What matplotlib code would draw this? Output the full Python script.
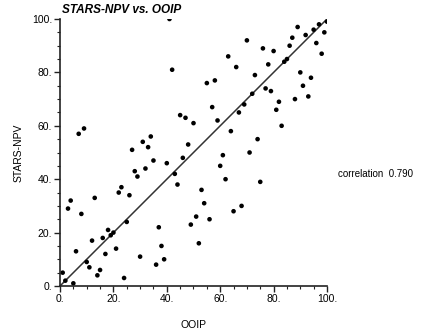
import matplotlib
matplotlib.use("Agg")
import matplotlib.pyplot as plt
from matplotlib.ticker import MultipleLocator, FuncFormatter

# Rank data (OOIP rank, STARS-NPV rank)
ooip = [41, 42, 7, 9, 45, 47, 50, 55, 58, 57, 59, 27, 31, 34, 33, 48, 35, 40, 32, 46,
        60, 43, 44, 28, 29, 22, 23, 26, 13, 4, 3, 8, 25, 18, 20, 19, 16, 12, 6, 21,
        17, 30, 37, 38, 39, 36, 10, 11, 15, 14, 24, 1, 2, 5, 49, 51, 53, 54, 56, 52,
        62, 75, 68, 65, 100, 97, 95, 99, 89, 92, 87, 96, 86, 70, 76, 80, 63, 98, 66, 78,
        84, 85, 73, 90, 94, 77, 79, 72, 91, 93, 88, 69, 67, 82, 81, 83, 64, 74, 71, 61]
npv = [100, 81, 57, 59, 64, 63, 61, 76, 77, 67, 62, 51, 54, 56, 52, 53, 47, 46, 44, 48,
       45, 42, 38, 43, 41, 35, 37, 34, 33, 32, 29, 27, 24, 21, 20, 19, 18, 17, 13, 14,
       12, 11, 22, 15, 10, 8, 9, 7, 6, 4, 3, 5, 2, 1, 23, 26, 36, 31, 25, 16,
       40, 39, 30, 28, 99, 98, 96, 95, 97, 94, 93, 91, 90, 92, 89, 88, 86, 87, 82, 83,
       84, 85, 79, 80, 78, 74, 73, 72, 75, 71, 70, 68, 65, 69, 66, 60, 58, 55, 50, 49]
diag = [0, 100]
title = "STARS-NPV vs. OOIP"
xlabel = "OOIP"
ylabel = "STARS-NPV"
corr_text = "correlation  0.790"

plt.rcParams['font.family'] = ['Liberation Sans', 'DejaVu Sans']

fig = plt.figure(figsize=(4.35, 3.32), dpi=100)
ax = fig.add_axes([60/435, 1-286/332, 267/435, 267/332])

ax.plot(diag, diag, color='#333333', lw=1.1, zorder=1)
ax.scatter(ooip, npv, s=11, color='black', edgecolors='none', zorder=2)

ax.set_xlim(0, 100)
ax.set_ylim(0, 100)
for s in ['top', 'right']:
    ax.spines[s].set_visible(False)
for s in ['left', 'bottom']:
    ax.spines[s].set_linewidth(1.2)
    ax.spines[s].set_color('#222222')

ax.xaxis.set_major_locator(MultipleLocator(20))
ax.yaxis.set_major_locator(MultipleLocator(20))
ax.xaxis.set_minor_locator(MultipleLocator(5))
ax.yaxis.set_minor_locator(MultipleLocator(5))
fmt = FuncFormatter(lambda v, p: f"{int(round(v))}.")
ax.xaxis.set_major_formatter(fmt)
ax.yaxis.set_major_formatter(fmt)
ax.tick_params(which='major', length=4, width=1, labelsize=7.5, pad=1.5, color='#222222')
ax.tick_params(which='minor', length=2.5, width=0.8, color='#222222')

ax.set_xlabel(xlabel, fontsize=7.5, labelpad=12)
ax.set_ylabel(ylabel, fontsize=7.5, labelpad=6)

fig.text(62/435, 1-10/332, title, fontsize=8.5, fontweight='bold', fontstyle='italic',
         ha='left', va='center')
fig.text(338/435, 1-174/332, corr_text, fontsize=7, ha='left', va='center')

fig.savefig("out.png", dpi=100)
